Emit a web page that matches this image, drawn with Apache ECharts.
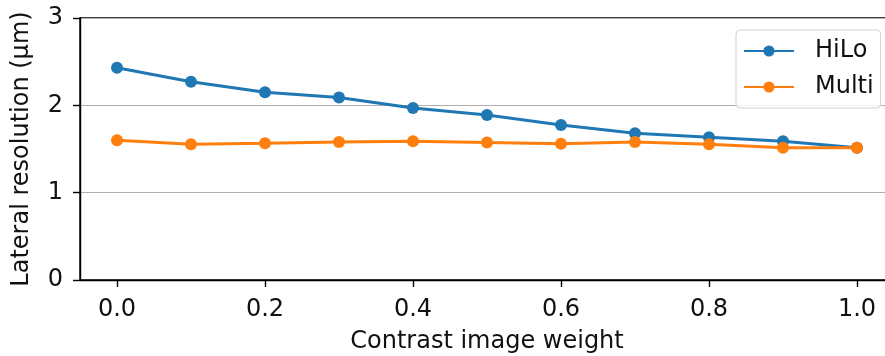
<!DOCTYPE html>
<html>
<head>
<meta charset="utf-8">
<script src="https://cdn.jsdelivr.net/npm/echarts@6/dist/echarts.min.js"></script>
<style>
html,body{margin:0;padding:0;background:#fff;}
#chart{width:885px;height:356px;}
</style>
</head>
<body>
<div id="chart"></div>
<script>
const weights = [0.0, 0.1, 0.2, 0.3, 0.4, 0.5, 0.6, 0.7, 0.8, 0.9, 1.0];
const hiloValues = [2.43, 2.27, 2.15, 2.09, 1.97, 1.89, 1.775, 1.68, 1.635, 1.59, 1.515];
const multiValues = [1.60, 1.555, 1.565, 1.58, 1.59, 1.575, 1.56, 1.58, 1.555, 1.515, 1.515];
const xTickValues = [0.0, 0.2, 0.4, 0.6, 0.8, 1.0];
const seriesNames = ['HiLo', 'Multi'];

const FONT = 'DejaVu Sans';
const FS = 24;
const chart = echarts.init(document.getElementById('chart'), null, {renderer: 'canvas'});

function pairs(vals) { return weights.map((w, i) => [w, vals[i]]); }

const option = {
  animation: false,
  backgroundColor: '#fff',
  textStyle: {fontFamily: FONT},
  grid: {
    left: 80, top: 18, width: 814, height: 262,
    containLabel: false, outerBoundsMode: 'none',
    show: true, borderColor: '#000', borderWidth: 1.4, backgroundColor: 'transparent'
  },
  legend: {
    orient: 'vertical',
    left: 736, top: 30,
    padding: [9, 7, 9, 7],
    itemWidth: 50, itemHeight: 14, itemGap: 12,
    backgroundColor: 'rgba(255,255,255,0.8)',
    borderColor: '#d0d0d0', borderWidth: 1, borderRadius: 4,
    textStyle: {fontFamily: FONT, fontSize: FS, lineHeight: 24, color: '#111', padding: [0, 0, 0, 16]},
    data: seriesNames
  },
  xAxis: {
    type: 'value', min: -0.05, max: 1.05,
    name: 'Contrast image weight', nameLocation: 'middle', nameGap: 50,
    nameTextStyle: {fontFamily: FONT, fontSize: FS, color: '#111'},
    axisLine: {show: true, onZero: false, lineStyle: {color: '#000', width: 1.4}},
    axisTick: {show: true, length: 7, lineStyle: {color: '#000', width: 1.4}, customValues: xTickValues},
    axisLabel: {fontFamily: FONT, fontSize: FS, color: '#111', margin: 18,
      customValues: xTickValues, formatter: v => v.toFixed(1)},
    splitLine: {show: false}
  },
  yAxis: {
    type: 'value', min: 0, max: 3, interval: 1,
    name: 'Lateral resolution (µm)', nameLocation: 'middle', nameGap: 46,
    nameTextStyle: {fontFamily: FONT, fontSize: FS, color: '#111'},
    axisLine: {show: true, onZero: false, lineStyle: {color: '#000', width: 1.4}},
    axisTick: {show: true, length: 7, lineStyle: {color: '#000', width: 1.4}},
    axisLabel: {fontFamily: FONT, fontSize: FS, color: '#111', margin: 17},
    splitLine: {show: true, lineStyle: {color: '#b0b0b0', width: 1}}
  },
  series: [
    {
      name: seriesNames[0], type: 'line', data: pairs(hiloValues),
      color: '#1f77b4', symbol: 'circle', symbolSize: 12, showSymbol: true,
      lineStyle: {width: 3, color: '#1f77b4'},
      itemStyle: {color: '#1f77b4'}, z: 2
    },
    {
      name: seriesNames[1], type: 'line', data: pairs(multiValues),
      color: '#ff7f0e', symbol: 'circle', symbolSize: 12, showSymbol: true,
      lineStyle: {width: 3, color: '#ff7f0e'},
      itemStyle: {color: '#ff7f0e'}, z: 3
    }
  ]
};
chart.setOption(option);
</script>
</body>
</html>
